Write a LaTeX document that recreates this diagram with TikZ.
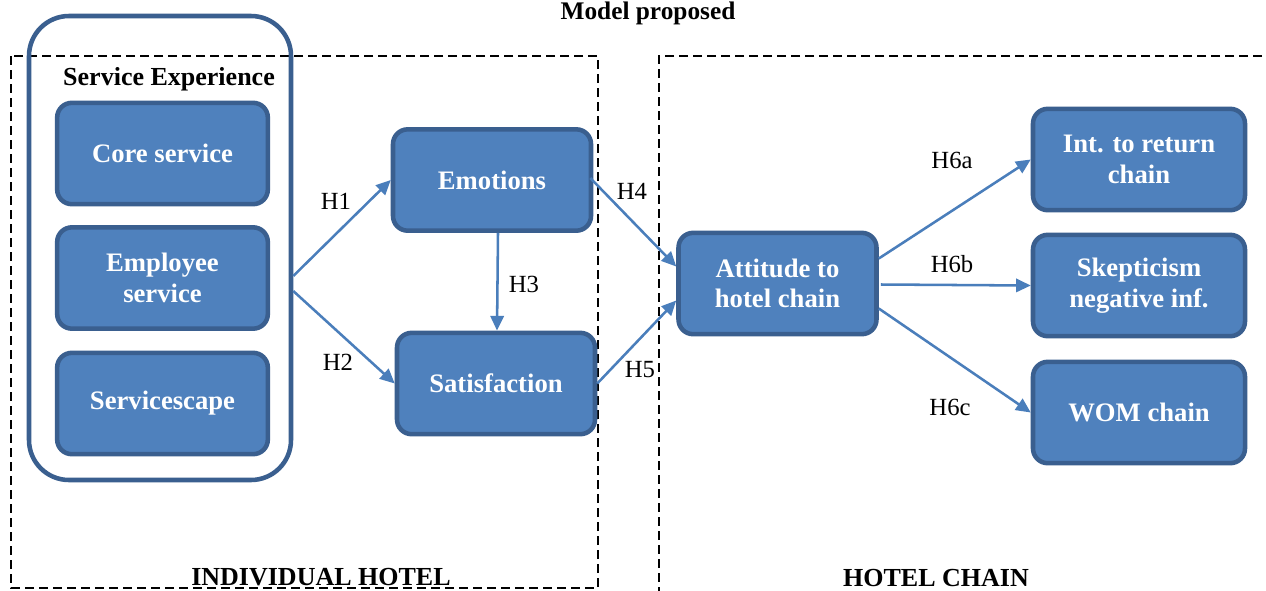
\documentclass[tikz,border=0pt]{standalone}
\usepackage{fontspec}
\setmainfont{Liberation Serif}
\usetikzlibrary{arrows.meta,calc}
\definecolor{boxfill}{HTML}{4F81BD}
\definecolor{boxline}{HTML}{3A5F8F}
\definecolor{arrowc}{HTML}{4A7EBB}
\tikzset{
  box/.style={draw=boxline, line width=3.4pt, fill=boxfill, rounded corners=11pt,
    text=white, font=\fontsize{20}{23}\selectfont\bfseries, align=center,
    minimum height=76pt, inner sep=2pt},
  leftbox/.style={box, minimum width=158pt},
  midbox/.style={box, minimum width=148.5pt},
  rightbox/.style={box, minimum width=159pt},
  conn/.style={draw=arrowc, line width=1.9pt, -{Triangle[length=11pt,width=10pt]}},
  hlab/.style={font=\fontsize{18.5}{21}\selectfont, inner sep=0pt},
  zone/.style={draw=black, line width=2.2pt, dash pattern=on 6.5pt off 4pt},
  zonelab/.style={font=\fontsize{19.5}{23}\selectfont\bfseries, inner sep=0pt}
}
\begin{document}
\begin{tikzpicture}[x=0.75pt,y=-0.75pt]
\useasboundingbox (0,0) rectangle (1266,590);
\clip (0,0) rectangle (1266,590);
\fill[white] (0,0) rectangle (1266,590);

% title
\node[font=\fontsize{19}{23}\selectfont\bfseries, inner sep=0pt] (title) at (648,13) {Model proposed};

% dashed zones
\draw[zone] (11,56) rectangle (598,588);
\draw[zone] (1290,56) -- (659,56) -- (659,620);
\node[zonelab] (ind) at (321,577) {INDIVIDUAL HOTEL};
\node[zonelab] (chain) at (936,578) {HOTEL CHAIN};

% service experience group
\node[draw=boxline, line width=3.4pt, rounded corners=30pt, minimum width=196.5pt,
      minimum height=348pt, inner sep=0pt] (se) at (160,248) {};
\node[zonelab] (setitle) at (169,79) {Service Experience};

\node[leftbox] (core) at (162.5,153.5) {Core service};
\node[leftbox] (emp) at (162.5,278) {Employee\\service};
\node[leftbox] (scape) at (162.5,403.5) {Servicescape};

\node[midbox] (emo) at (492,180) {Emotions};
\node[midbox] (sat) at (496,383.5) {Satisfaction};
\node[midbox] (att) at (777.5,283.5) {Attitude to\\hotel chain};

\node[rightbox] (ret) at (1139,159.5) {Int. to return\\chain};
\node[rightbox] (skep) at (1139,285.5) {Skepticism\\negative inf.};
\node[rightbox] (wom) at (1139,412.5) {WOM chain};

% connectors
\draw[conn] ($(se.east)+(0,28)$) -- (emo.west);
\draw[conn] ($(se.east)+(0,43)$) -- (sat.west);
\draw[conn] ($(emo.south)+(6,0)$) -- ($(sat.north)+(1,0)$);
\draw[conn] ($(emo.east)+(-3,-2)$) -- ($(att.west)+(0,-17)$);
\draw[conn] (sat.east) -- ($(att.west)+(0,17)$);
\draw[conn] ($(att.east)+(0,-25)$) -- (ret.west);
\draw[conn] ($(att.east)+(2,1)$) -- (skep.west);
\draw[conn] ($(att.east)+(0,25)$) -- (wom.west);

% labels
\node[hlab] (h1) at (336,201) {H1};
\node[hlab] (h2) at (338,362) {H2};
\node[hlab] (h3) at (524,284) {H3};
\node[hlab] (h4) at (632,191) {H4};
\node[hlab] (h5) at (640,370) {H5};
\node[hlab] (h6a) at (952,160) {H6a};
\node[hlab] (h6b) at (952,264) {H6b};
\node[hlab] (h6c) at (950,407) {H6c};
\end{tikzpicture}
\end{document}
